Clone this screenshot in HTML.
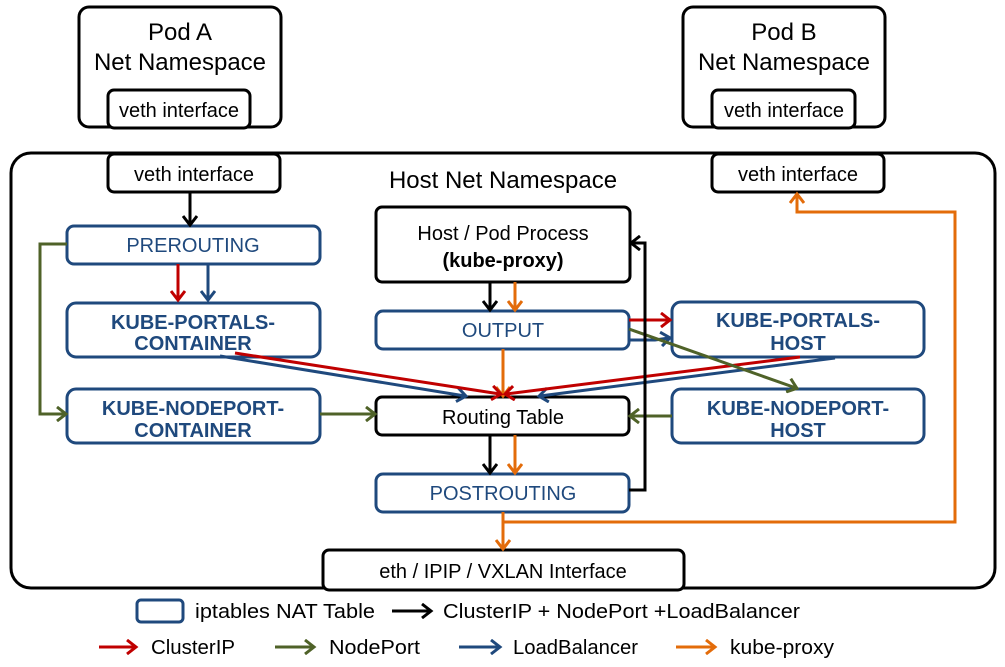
<!DOCTYPE html>
<html><head><meta charset="utf-8"><style>
html,body{margin:0;padding:0;background:#fff}
svg{display:block}
text{font-family:"Liberation Sans","Noto Sans CJK KR",sans-serif}
</style></head><body>
<svg width="1005" height="667" viewBox="0 0 1005 667" xmlns="http://www.w3.org/2000/svg">
<defs>
<marker id="mk" markerWidth="16" markerHeight="16" refX="11" refY="8" orient="auto" markerUnits="userSpaceOnUse"><path d="M3,1 L12,8 L3,15" fill="none" stroke="#000" stroke-width="3"/></marker>
<marker id="mr" markerWidth="16" markerHeight="16" refX="11" refY="8" orient="auto" markerUnits="userSpaceOnUse"><path d="M3,1 L12,8 L3,15" fill="none" stroke="#C00000" stroke-width="3"/></marker>
<marker id="mg" markerWidth="16" markerHeight="16" refX="11" refY="8" orient="auto" markerUnits="userSpaceOnUse"><path d="M3,1 L12,8 L3,15" fill="none" stroke="#4F6228" stroke-width="3"/></marker>
<marker id="mb" markerWidth="16" markerHeight="16" refX="11" refY="8" orient="auto" markerUnits="userSpaceOnUse"><path d="M3,1 L12,8 L3,15" fill="none" stroke="#1F497D" stroke-width="3"/></marker>
<marker id="mo" markerWidth="16" markerHeight="16" refX="11" refY="8" orient="auto" markerUnits="userSpaceOnUse"><path d="M3,1 L12,8 L3,15" fill="none" stroke="#E36C0A" stroke-width="3"/></marker>
</defs>
<g fill="#fff" stroke="#000" stroke-width="3">
<rect x="79" y="7" width="202" height="120" rx="10"/>
<rect x="683" y="7" width="202" height="120" rx="10"/>
<rect x="11" y="153" width="984" height="435" rx="20"/>
<rect x="108" y="90" width="142" height="38" rx="6"/>
<rect x="712" y="90" width="143" height="38" rx="6"/>
<rect x="108" y="154" width="172" height="38" rx="6"/>
<rect x="712" y="154" width="172" height="38" rx="6"/>
<rect x="376" y="207" width="254" height="75" rx="6"/>
<rect x="376" y="397" width="253" height="38" rx="6"/>
<rect x="323" y="550" width="361" height="40" rx="6"/>
</g>
<g fill="#fff" stroke="#1F497D" stroke-width="3">
<rect x="67" y="226" width="253" height="38" rx="7"/>
<rect x="67" y="303" width="253" height="54" rx="9"/>
<rect x="67" y="389" width="253" height="54" rx="9"/>
<rect x="376" y="311" width="253" height="38" rx="7"/>
<rect x="376" y="474" width="253" height="38" rx="7"/>
<rect x="672" y="302" width="252" height="55" rx="9"/>
<rect x="672" y="389" width="252" height="54" rx="9"/>
<rect x="137" y="600" width="46" height="22" rx="4"/>
</g>
<g font-size="24" text-anchor="middle" fill="#000">
<text x="180" y="40">Pod A</text><text x="180" y="70">Net Namespace</text>
<text x="784" y="40">Pod B</text><text x="784" y="70">Net Namespace</text>
<text x="503" y="188">Host Net Namespace</text>
</g>
<g font-size="20" text-anchor="middle" fill="#000">
<text x="179" y="117">veth interface</text>
<text x="784" y="117">veth interface</text>
<text x="194" y="181">veth interface</text>
<text x="798" y="181">veth interface</text>
<text x="503" y="240">Host / Pod Process</text>
<text x="503" y="267" font-weight="bold">(kube-proxy)</text>
<text x="503" y="424">Routing Table</text>
<text x="503" y="578">eth / IPIP / VXLAN Interface</text>
</g>
<g font-size="20" text-anchor="middle" fill="#1F497D">
<text x="193" y="252">PREROUTING</text>
<text x="503" y="337">OUTPUT</text>
<text x="503" y="500">POSTROUTING</text>
<g font-weight="bold">
<text x="193" y="329">KUBE-PORTALS-</text><text x="193" y="350">CONTAINER</text>
<text x="193" y="415">KUBE-NODEPORT-</text><text x="193" y="437">CONTAINER</text>
<text x="798" y="327">KUBE-PORTALS-</text><text x="798" y="350">HOST</text>
<text x="798" y="415">KUBE-NODEPORT-</text><text x="798" y="437">HOST</text>
</g></g>
<g fill="none" stroke-width="3">
<line x1="190" y1="192" x2="190" y2="224" stroke="#000" marker-end="url(#mk)"/>
<line x1="178" y1="264" x2="178" y2="299" stroke="#C00000" marker-end="url(#mr)"/>
<line x1="208" y1="264" x2="208" y2="299" stroke="#1F497D" marker-end="url(#mb)"/>
<polyline points="67,244 40,244 40,414 65,414" stroke="#4F6228" marker-end="url(#mg)"/>
<line x1="320" y1="414" x2="374" y2="414" stroke="#4F6228" marker-end="url(#mg)"/>
<line x1="490" y1="282" x2="490" y2="309" stroke="#000" marker-end="url(#mk)"/>
<line x1="515" y1="282" x2="515" y2="309" stroke="#E36C0A" marker-end="url(#mo)"/>
<line x1="503" y1="349" x2="503" y2="395" stroke="#E36C0A" marker-end="url(#mo)"/>
<line x1="220" y1="356" x2="465" y2="396" stroke="#1F497D" marker-end="url(#mb)"/>
<line x1="235" y1="353" x2="500" y2="394" stroke="#C00000" marker-end="url(#mr)"/>
<line x1="835" y1="358" x2="540" y2="396" stroke="#1F497D" marker-end="url(#mb)"/>
<line x1="800" y1="357" x2="506" y2="394" stroke="#C00000" marker-end="url(#mr)"/>
<line x1="629" y1="320" x2="669" y2="320" stroke="#C00000" marker-end="url(#mr)"/>
<polyline points="629,340 655,340 669,338" stroke="#1F497D" marker-end="url(#mb)"/>
<line x1="629" y1="329" x2="796" y2="388" stroke="#4F6228" marker-end="url(#mg)"/>
<line x1="672" y1="416" x2="631" y2="416" stroke="#4F6228" marker-end="url(#mg)"/>
<line x1="490" y1="435" x2="490" y2="472" stroke="#000" marker-end="url(#mk)"/>
<line x1="515" y1="435" x2="515" y2="472" stroke="#E36C0A" marker-end="url(#mo)"/>
<polyline points="629,490 645,490 645,243 632,243" stroke="#000" marker-end="url(#mk)"/>
<line x1="503" y1="512" x2="503" y2="548" stroke="#E36C0A" marker-end="url(#mo)"/>
<polyline points="503,522 955,522 955,212 797,212 797,195" stroke="#E36C0A" marker-end="url(#mo)"/>
<line x1="392" y1="611" x2="430" y2="611" stroke="#000" marker-end="url(#mk)"/>
<line x1="99" y1="647" x2="135" y2="647" stroke="#C00000" marker-end="url(#mr)"/>
<line x1="275" y1="647" x2="313" y2="647" stroke="#4F6228" marker-end="url(#mg)"/>
<line x1="459" y1="647" x2="499" y2="647" stroke="#1F497D" marker-end="url(#mb)"/>
<line x1="676" y1="647" x2="714" y2="647" stroke="#E36C0A" marker-end="url(#mo)"/>
</g>
<g font-size="20" fill="#000">
<text x="195" y="618" textLength="180" lengthAdjust="spacingAndGlyphs">iptables NAT Table</text>
<text x="443" y="618" textLength="357" lengthAdjust="spacingAndGlyphs">ClusterIP + NodePort +LoadBalancer</text>
<text x="151" y="654" textLength="84" lengthAdjust="spacingAndGlyphs">ClusterIP</text>
<text x="329" y="654" textLength="91" lengthAdjust="spacingAndGlyphs">NodePort</text>
<text x="513" y="654" textLength="125" lengthAdjust="spacingAndGlyphs">LoadBalancer</text>
<text x="730" y="654" textLength="104" lengthAdjust="spacingAndGlyphs">kube-proxy</text>
</g>
</svg>
</body></html>
